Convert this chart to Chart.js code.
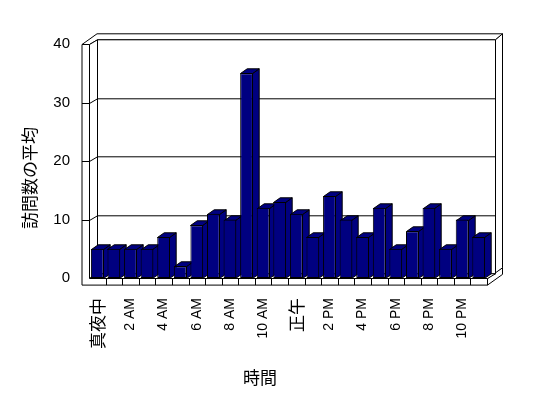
<!DOCTYPE html>
<html>
<head>
<meta charset="utf-8">
<script src="https://cdn.jsdelivr.net/npm/chart.js@4/dist/chart.umd.min.js"></script>
<style>
  body { margin: 0; background: #fff; }
  canvas { display: block; }
</style>
</head>
<body>
<canvas id="myChart" width="548" height="398"></canvas>
<script>
// dati
const ore = ['真夜中', '1 AM', '2 AM', '3 AM', '4 AM', '5 AM', '6 AM', '7 AM', '8 AM', '9 AM', '10 AM', '11 AM',
             '正午', '1 PM', '2 PM', '3 PM', '4 PM', '5 PM', '6 PM', '7 PM', '8 PM', '9 PM', '10 PM', '11 PM'];
const visite = [5, 5, 5, 5, 7, 2, 9, 11, 10, 35, 12, 13, 11, 7, 14, 10, 7, 12, 5, 8, 12, 5, 10, 7];
const yMin = 0;
const yMax = 40;
const yStep = 10;
const titoloY = '訪問数の平均';
const titoloX = '時間';

const blu = '#000080';
const fontLat = '"Liberation Sans", Arial, sans-serif';
const fontCjk = '"Noto Sans CJK JP", sans-serif';

// profondita' finta 3D
const DX = 8, DY = 4.7;     // piano posteriore
const RX = 15, RY = 10.7;   // retro della parete
const LW = 7.5, FH = 6.6;   // spessore parete sinistra / pavimento
const BDX = 6.7, BDY = 4.7; // profondita' barre

function poly(ctx, pts, fill) {
    ctx.beginPath();
    ctx.moveTo(pts[0][0], pts[0][1]);
    for (let i = 1; i < pts.length; i++) ctx.lineTo(pts[i][0], pts[i][1]);
    ctx.closePath();
    if (fill) { ctx.fillStyle = fill; ctx.fill(); }
    ctx.stroke();
}

function line(ctx, x1, y1, x2, y2) {
    ctx.beginPath();
    ctx.moveTo(x1, y1);
    ctx.lineTo(x2, y2);
    ctx.stroke();
}

const cornice3d = {
    id: 'cornice3d',
    beforeDatasetsDraw(chart) {
        const ctx = chart.ctx;
        const a = chart.chartArea;
        const y = chart.scales.y;
        const x = chart.scales.x;
        const L = Math.round(a.left) + 0.5, R = Math.round(a.right) + 0.5;
        const T = Math.round(y.getPixelForValue(yMax)) + 0.5;
        const B = Math.round(y.getPixelForValue(yMin)) + 0.5;
        ctx.save();
        ctx.strokeStyle = '#000';
        ctx.lineWidth = 1;

        // parte superiore pareti
        poly(ctx, [[L - LW, T], [L, T], [L + DX, T - DY], [R + DX, T - DY], [R + RX, T - RY], [L - LW + RX, T - RY]], '#fff');
        // lato destro parete posteriore
        poly(ctx, [[R + DX, T - DY], [R + RX, T - RY], [R + RX, B - RY], [R + DX, B - DY]], '#fff');
        // lato destro pavimento
        poly(ctx, [[R, B], [R + RX, B - RY], [R + RX, B + FH - RY], [R, B + FH]], '#fff');
        // parete posteriore
        poly(ctx, [[L + DX, T - DY], [R + DX, T - DY], [R + DX, B - DY], [L + DX, B - DY]], '#fff');
        // parete sinistra interna
        poly(ctx, [[L, T], [L + DX, T - DY], [L + DX, B - DY], [L, B]], '#fff');
        // pavimento
        poly(ctx, [[L, B], [R, B], [R + DX, B - DY], [L + DX, B - DY]], '#fff');
        // fronte parete + pavimento
        poly(ctx, [[L - LW, T], [L, T], [L, B], [R, B], [R, B + FH], [L - LW, B + FH]], '#fff');

        // griglia
        for (let v = yMin + yStep; v < yMax; v += yStep) {
            const py = Math.round(y.getPixelForValue(v)) + 0.5;
            line(ctx, L - LW, py, L, py);
            line(ctx, L, py, L + DX, py - DY);
            line(ctx, L + DX, py - DY, R + DX, py - DY);
        }
        // divisioni categorie sul pavimento
        for (let i = 1; i < ore.length; i++) {
            const px = Math.round((x.getPixelForValue(i - 1) + x.getPixelForValue(i)) / 2) + 0.5;
            line(ctx, px, B, px, B + FH);
        }

        // facce laterali e superiori delle barre
        const meta = chart.getDatasetMeta(0);
        meta.data.forEach(bar => {
            const l = Math.round(bar.x - bar.width / 2) + 0.5;
            const r = Math.round(bar.x + bar.width / 2) - 0.5;
            const t = Math.round(bar.y) + 0.5;
            const b = Math.round(bar.base) + 0.5;
            poly(ctx, [[r, t], [r + BDX, t - BDY], [r + BDX, b - BDY], [r, b]], blu);
            poly(ctx, [[l, t], [r, t], [r + BDX, t - BDY], [l + BDX, t - BDY]], blu);
        });
        ctx.restore();
    },
    afterDraw(chart) {
        const ctx = chart.ctx;
        ctx.save();
        ctx.fillStyle = '#000';
        ctx.font = '17px ' + fontCjk;
        ctx.textAlign = 'center';
        ctx.textBaseline = 'middle';
        ctx.fillText(titoloX, 260, 378);
        ctx.translate(30, 178);
        ctx.rotate(-Math.PI / 2);
        ctx.fillText(titoloY, 0, 0);
        ctx.restore();
    }
};

Chart.defaults.color = '#000';

const ctx = document.getElementById('myChart').getContext('2d');
const chart = new Chart(ctx, {
    type: 'bar',
    data: {
        labels: ore,
        datasets: [{
            label: titoloY,
            data: visite,
            backgroundColor: blu,
            borderColor: '#000',
            borderWidth: 1,
            borderSkipped: false,
            barPercentage: 0.77,
            categoryPercentage: 1
        }]
    },
    options: {
        responsive: false,
        animation: false,
        layout: {
            padding: { top: 44, right: 61, left: 0, bottom: 0 }
        },
        plugins: {
            legend: { display: false },
            tooltip: { enabled: false }
        },
        scales: {
            x: {
                grid: { display: false, drawTicks: false },
                border: { display: false },
                ticks: {
                    autoSkip: false,
                    minRotation: 90,
                    maxRotation: 90,
                    padding: 20,
                    color: '#000',
                    font: (c) => (/[^\x00-\x7F]/.test(c.tick && c.tick.label) ? { family: fontCjk, size: 17 } : { family: fontLat, size: 14 }),
                    callback: (val, i) => (i % 2 === 0 ? ore[i] : '')
                },
                afterFit: (s) => { s.height = 120; }
            },
            y: {
                min: yMin,
                max: yMax,
                grid: { display: false, drawTicks: false },
                border: { display: false },
                ticks: {
                    stepSize: yStep,
                    padding: 19,
                    color: '#000',
                    font: { family: fontLat, size: 15 }
                },
                afterFit: (s) => { s.width = 89; }
            }
        }
    },
    plugins: [cornice3d]
});
</script>
</body>
</html>
